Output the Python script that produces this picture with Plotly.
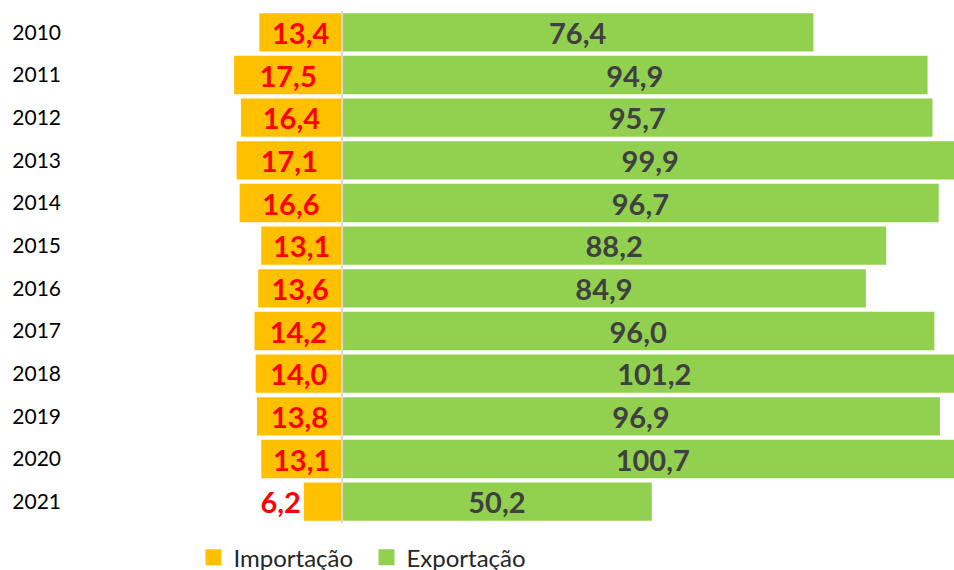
import plotly.graph_objects as go

years = ["2010", "2011", "2012", "2013", "2014", "2015", "2016", "2017", "2018", "2019", "2020", "2021"]
importacao = [13.4, 17.5, 16.4, 17.1, 16.6, 13.1, 13.6, 14.2, 14.0, 13.8, 13.1, 6.2]
exportacao = [76.4, 94.9, 95.7, 99.9, 96.7, 88.2, 84.9, 96.0, 101.2, 96.9, 100.7, 50.2]

COL_IMP = "#FFC000"
COL_EXP = "#92D050"

def fmt(v):
    return f"{v:.1f}".replace(".", ",")

imp_pos = ["inside"] * (len(importacao) - 1) + ["outside"]

fig = go.Figure()
fig.add_trace(go.Bar(
    name="Importação", y=years, x=[-v for v in importacao], orientation="h",
    marker=dict(color=COL_IMP, line=dict(width=0)),
    text=[fmt(v) for v in importacao], textposition=imp_pos,
    insidetextanchor="middle", constraintext="none",
    textfont=dict(family="Lato", size=29, color="#FF0000", weight="bold"),
    cliponaxis=False, hoverinfo="skip", showlegend=False,
))
fig.add_trace(go.Bar(
    name="Exportação", y=years, x=exportacao, orientation="h",
    marker=dict(color=COL_EXP, line=dict(width=0)),
    text=[fmt(v) for v in exportacao], textposition="inside",
    insidetextanchor="middle", constraintext="none",
    textfont=dict(family="Lato", size=29, color="#404040", weight="bold"),
    hoverinfo="skip", showlegend=False,
))
# legend entries
for nm, col, lg in [("Importação", COL_IMP, "legend"), ("Exportação", COL_EXP, "legend2")]:
    fig.add_trace(go.Scatter(
        name=nm, x=[None], y=[None], mode="markers", legend=lg,
        marker=dict(symbol="square", size=16, color=col), hoverinfo="skip",
    ))

fig.add_shape(type="line", xref="x", yref="paper", x0=0, x1=0, y0=0, y1=1,
              line=dict(color="#D9D9D9", width=2), layer="above")

leg_common = dict(orientation="h", xanchor="left", y=-0.0675, yanchor="middle",
                  font=dict(family="Lato", size=24, color="#262626"),
                  bgcolor="rgba(0,0,0,0)")
fig.update_layout(
    width=980, height=590,
    margin=dict(l=70, r=0, t=11, b=67),
    barmode="relative", bargap=0.1,
    plot_bgcolor="white", paper_bgcolor="white",
    font=dict(family="Lato", color="#000000"),
    showlegend=True,
    legend=dict(x=0.1357, **leg_common),
    legend2=dict(x=0.3258, **leg_common),
)
fig.update_xaxes(range=[-44.1, 103.4], showgrid=False, zeroline=False,
                 showticklabels=False, showline=False, fixedrange=True)
fig.update_yaxes(categoryorder="array", categoryarray=years, autorange="reversed",
                 showgrid=False, zeroline=False, showline=False, ticks="",
                 ticklabelstandoff=8, fixedrange=True,
                 tickfont=dict(family="Lato", size=21, color="#000000"))

fig.write_html(
    "out.html",
    config={"displayModeBar": False},
    post_script="document.documentElement.style.overflow='hidden';"
                "document.body.style.margin='0';document.body.style.overflow='hidden';",
)
